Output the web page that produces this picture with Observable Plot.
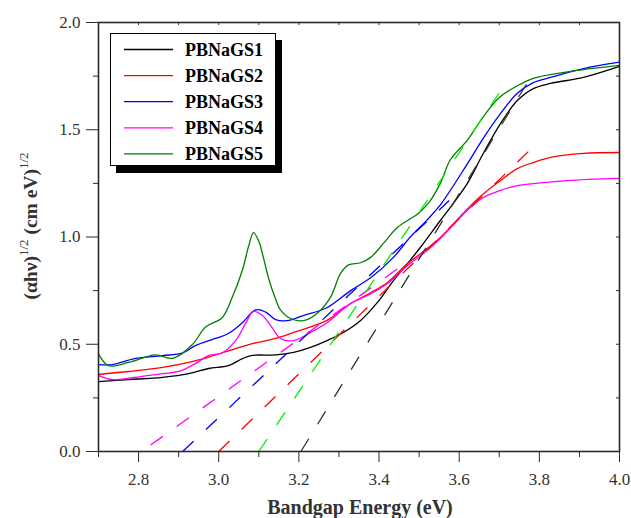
<!DOCTYPE html>
<html><head><meta charset="utf-8">
<script src="https://cdn.jsdelivr.net/npm/d3@7"></script>
<script src="https://cdn.jsdelivr.net/npm/@observablehq/plot@0.6"></script>
<style>
html,body{margin:0;padding:0;background:#fff;}
#chart{width:631px;height:518px;}
</style></head><body><div id="chart"></div>
<script>
const seriesNames = ["PBNaGS1","PBNaGS2","PBNaGS3","PBNaGS4","PBNaGS5"];
const seriesColors = ["#000000","#ff0000","#0000ff","#ff00ff","#008000"];
const fitColors = ["#333333","#ff0000","#0000ff","#ff00ff","#00ee00"];

const gs1X = [2.70, 2.775, 2.86, 2.925, 2.975, 3.024, 3.059, 3.084, 3.142, 3.187, 3.229, 3.27, 3.311, 3.354, 3.396, 3.436, 3.471, 3.503, 3.553, 3.578, 3.62, 3.66, 3.703, 3.745, 3.785, 3.828, 3.91, 4.0];
const gs1Y = [0.326, 0.335, 0.346, 0.363, 0.387, 0.40, 0.433, 0.448, 0.45, 0.462, 0.485, 0.517, 0.555, 0.611, 0.695, 0.797, 0.876, 0.951, 1.077, 1.138, 1.249, 1.389, 1.529, 1.636, 1.692, 1.716, 1.744, 1.795];

const gs2X = [2.70, 2.775, 2.86, 2.925, 2.975, 3.042, 3.084, 3.142, 3.187, 3.27, 3.329, 3.38, 3.421, 3.471, 3.52, 3.553, 3.62, 3.66, 3.703, 3.745, 3.785, 3.828, 3.91, 4.0];
const gs2Y = [0.359, 0.373, 0.392, 0.415, 0.44, 0.48, 0.503, 0.527, 0.555, 0.611, 0.69, 0.741, 0.788, 0.876, 0.946, 0.998, 1.13, 1.20, 1.263, 1.319, 1.347, 1.371, 1.39, 1.394];

const gs3X = [2.70, 2.735, 2.79, 2.86, 2.91, 2.942, 2.992, 3.024, 3.059, 3.092, 3.117, 3.142, 3.17, 3.211, 3.27, 3.329, 3.379, 3.436, 3.478, 3.52, 3.553, 3.62, 3.66, 3.703, 3.745, 3.785, 3.83, 3.91, 4.0];
const gs3Y = [0.405, 0.405, 0.433, 0.447, 0.46, 0.494, 0.527, 0.55, 0.60, 0.66, 0.65, 0.615, 0.61, 0.634, 0.67, 0.75, 0.81, 0.905, 1.0, 1.08, 1.15, 1.34, 1.46, 1.575, 1.67, 1.72, 1.745, 1.785, 1.815];

const gs4X = [2.70, 2.735, 2.79, 2.86, 2.90, 2.942, 2.975, 3.009, 3.042, 3.067, 3.087, 3.109, 3.134, 3.154, 3.187, 3.229, 3.27, 3.329, 3.38, 3.421, 3.471, 3.52, 3.553, 3.62, 3.66, 3.703, 3.745, 3.785, 3.87, 4.0];
const gs4Y = [0.354, 0.335, 0.345, 0.363, 0.373, 0.41, 0.448, 0.46, 0.517, 0.597, 0.653, 0.634, 0.575, 0.527, 0.517, 0.555, 0.60, 0.69, 0.736, 0.783, 0.867, 0.937, 0.993, 1.124, 1.184, 1.217, 1.24, 1.249, 1.263, 1.273];

const gs5X = [2.70, 2.725, 2.775, 2.842, 2.887, 2.935, 2.967, 3.009, 3.034, 3.059, 3.075, 3.087, 3.10, 3.112, 3.124, 3.14, 3.154, 3.179, 3.211, 3.246, 3.279, 3.304, 3.324, 3.354, 3.379, 3.411, 3.446, 3.478, 3.498, 3.528, 3.553, 3.578, 3.62, 3.66, 3.70, 3.745, 3.785, 3.87, 4.0];
const gs5Y = [0.455, 0.40, 0.415, 0.45, 0.435, 0.50, 0.58, 0.625, 0.72, 0.845, 0.96, 1.02, 0.98, 0.90, 0.81, 0.72, 0.66, 0.62, 0.61, 0.645, 0.72, 0.83, 0.87, 0.88, 0.905, 0.97, 1.045, 1.085, 1.11, 1.17, 1.25, 1.36, 1.45, 1.56, 1.65, 1.705, 1.74, 1.77, 1.80];

// Tangent (dashed) extrapolation lines
const fitStartX = [3.205, 3.00, 2.91, 2.83, 3.10];
const fitStartY = [0.0, 0.0, 0.0, 0.03, 0.0];
const fitEndX = [3.79, 3.79, 3.575, 3.46, 3.71];
const fitEndY = [1.78, 1.43, 1.17, 0.87, 1.70];

const xMajorTicks = [2.8, 3.0, 3.2, 3.4, 3.6, 3.8, 4.0];
const xMinorTicks = [2.7, 2.9, 3.1, 3.3, 3.5, 3.7, 3.9];
const yMajorTicks = [0.0, 0.5, 1.0, 1.5, 2.0];
const yMinorTicks = [0.25, 0.75, 1.25, 1.75];

const xTitle = "Bandgap Energy (eV)";

const seriesX = [gs1X, gs2X, gs3X, gs4X, gs5X];
const seriesY = [gs1Y, gs2Y, gs3Y, gs4Y, gs5Y];

const W = 631, H = 518, mL = 98, mR = 12, mT = 22, mB = 67;
const frameH = H - mT - mB, frameW = W - mL - mR;
const serif = "'Liberation Serif', 'Times New Roman', serif";
const axisColor = "#2a2a2a";

const curveMarks = seriesNames.map((name, i) =>
  Plot.line(seriesX[i].map((x, j) => ({x, y: seriesY[i][j]})), {
    x: "x", y: "y", stroke: seriesColors[i], strokeWidth: 1.3, curve: "catmull-rom"
  }));
const fitMarks = seriesNames.map((name, i) =>
  Plot.link([{x1: fitStartX[i], y1: fitStartY[i], x2: fitEndX[i], y2: fitEndY[i]}], {
    x1: "x1", y1: "y1", x2: "x2", y2: "y2", stroke: fitColors[i], strokeWidth: 1.3, strokeDasharray: "15,17"
  }));

const allX = xMajorTicks.concat(xMinorTicks);
const allY = yMajorTicks.concat(yMinorTicks);

const chart = Plot.plot({
  width: W, height: H,
  marginLeft: mL, marginRight: mR, marginTop: mT, marginBottom: mB,
  x: {domain: [2.7, 4.0]},
  y: {domain: [0, 2.0]},
  style: {fontFamily: serif, background: "#fff", overflow: "visible"},
  marks: [
    ...curveMarks,
    ...fitMarks,
    Plot.tickX(allX, {x: d => d, insetBottom: frameH - 3, stroke: axisColor}),
    Plot.tickY(allY, {y: d => d, insetLeft: frameW - 3, stroke: axisColor}),
    Plot.axisX(xMinorTicks, {tickSize: 6, fill: "none", stroke: axisColor, label: null}),
    Plot.axisY(yMinorTicks, {tickSize: 5, fill: "none", stroke: axisColor, label: null}),
    Plot.axisX(xMajorTicks, {tickSize: 11, tickPadding: 10, tickFormat: d3.format(".1f"), fontSize: 17, color: "#333", stroke: axisColor, label: null}),
    Plot.axisY(yMajorTicks, {tickSize: 12, tickPadding: 6, tickFormat: d3.format(".1f"), fontSize: 17, color: "#333", stroke: axisColor, label: null}),
    Plot.frame({stroke: axisColor, strokeWidth: 1.6})
  ]
});
document.getElementById("chart").appendChild(chart);

const svg = d3.select(chart);
// Legend
const lg = svg.append("g").attr("font-family", serif).attr("text-anchor", "start");
lg.append("rect").attr("x", 116).attr("y", 40).attr("width", 166).attr("height", 133).attr("fill", "#000");
lg.append("rect").attr("x", 110.5).attr("y", 33.5).attr("width", 165).attr("height", 132).attr("fill", "#fff").attr("stroke", "#000").attr("stroke-width", 1);
seriesNames.forEach((name, i) => {
  const yy = 49.5 + i * 26.1;
  lg.append("line").attr("x1", 124).attr("x2", 173).attr("y1", yy).attr("y2", yy).attr("stroke", seriesColors[i]).attr("stroke-width", 1.3);
  lg.append("text").attr("x", 185).attr("y", yy + 6).attr("text-anchor", "start").attr("font-size", 18).attr("font-weight", "bold").attr("fill", "#000").text(name);
});
// X title
svg.append("text").attr("x", 360).attr("y", 514).attr("text-anchor", "middle").attr("font-family", serif)
  .attr("font-size", 20).attr("font-weight", "bold").attr("fill", "#333").text(xTitle);
// Y title
const yt = svg.append("text").attr("transform", "translate(37,226) rotate(-90)").attr("text-anchor", "middle")
  .attr("font-family", serif).attr("font-size", 19.5).attr("font-weight", "bold").attr("fill", "#333");
yt.append("tspan").text("(\u03b1h\u03bd)");
yt.append("tspan").attr("dy", -9).attr("font-size", 13).attr("font-weight", "normal").text("1/2");
yt.append("tspan").attr("dy", 9).text(" (cm eV)");
yt.append("tspan").attr("dy", -9).attr("font-size", 13).attr("font-weight", "normal").text("1/2");
</script>
</body></html>
